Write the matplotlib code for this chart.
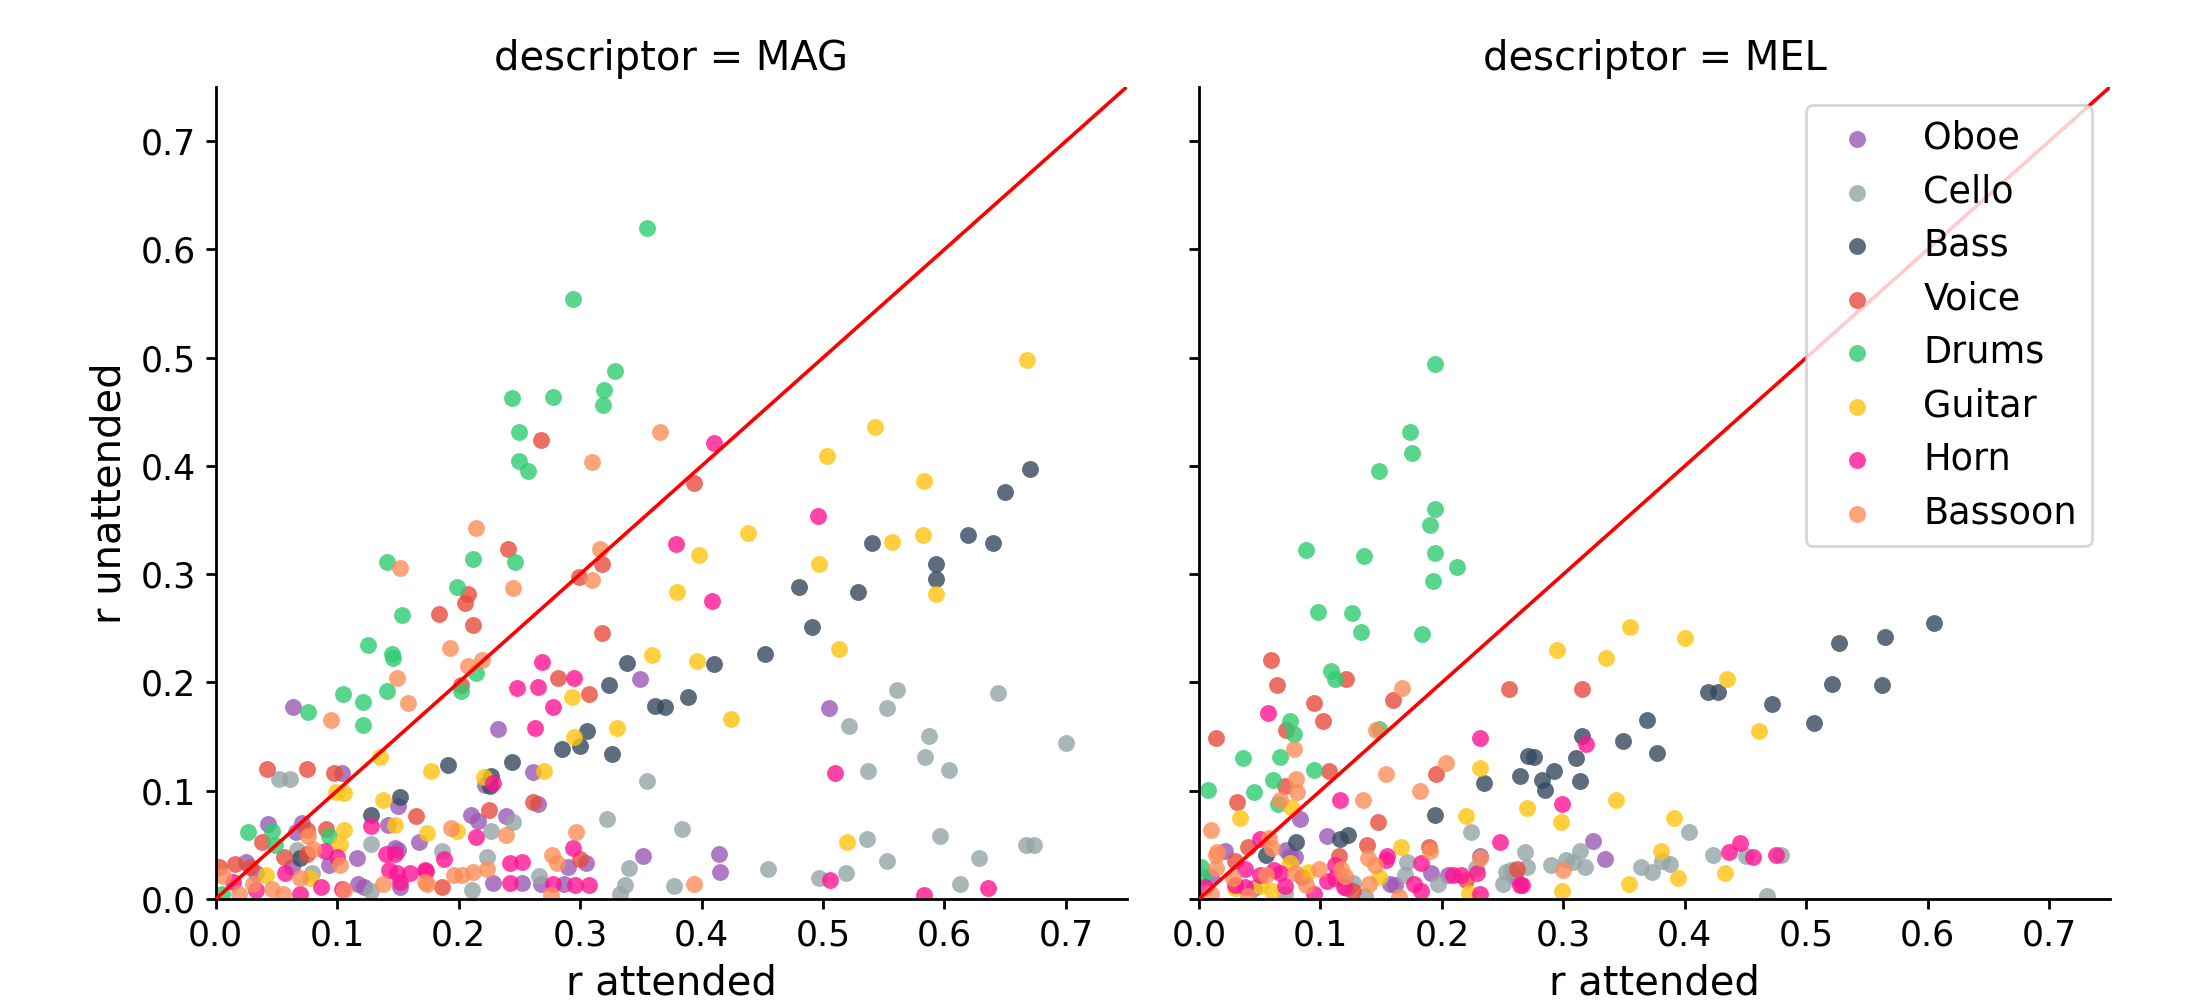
import matplotlib
matplotlib.use("Agg")
import matplotlib.pyplot as plt
import numpy as np

# ---------------- data (x = r attended, y = r unattended) ----------------
instruments = ["Oboe", "Cello", "Bass", "Voice", "Drums", "Guitar", "Horn", "Bassoon"]
colors = ["#9b59b6", "#95a5a6", "#34495e", "#e74c3c", "#2ecc71", "#ffc40f", "#ff1493", "#fc8d59"]
panels = ["MAG", "MEL"]

MAG_Oboe = [(0.064,0.177),(0.349,0.203),(0.232,0.157),(0.261,0.117),(0.222,0.105),(0.104,0.116),(0.150,0.086),
            (0.265,0.088),(0.210,0.078),(0.216,0.072),(0.239,0.077),(0.352,0.040),(0.142,0.068),(0.167,0.053),
            (0.150,0.045),(0.148,0.047),(0.252,0.015),(0.228,0.015),(0.268,0.014),(0.290,0.030),(0.305,0.033),
            (0.505,0.176),(0.414,0.042),(0.415,0.025),(0.043,0.069),(0.066,0.062),(0.071,0.070),(0.063,0.030),
            (0.025,0.034),(0.033,0.024),(0.093,0.031),(0.116,0.038),(0.117,0.014),(0.122,0.011),(0.152,0.011),
            (0.287,0.014)]
MAG_Cello = [(0.052,0.111),(0.061,0.111),(0.355,0.109),(0.384,0.065),(0.322,0.074),(0.245,0.071),(0.227,0.063),
             (0.128,0.051),(0.186,0.044),(0.223,0.039),(0.211,0.008),(0.266,0.021),(0.340,0.029),(0.337,0.013),
             (0.333,0.005),(0.377,0.012),(0.455,0.028),(0.561,0.193),(0.553,0.176),(0.521,0.160),(0.644,0.190),
             (0.587,0.151),(0.584,0.131),(0.604,0.119),(0.537,0.118),(0.700,0.144),(0.536,0.055),(0.553,0.035),
             (0.497,0.019),(0.519,0.024),(0.596,0.058),(0.628,0.038),(0.613,0.014),(0.667,0.050),(0.674,0.050),
             (0.067,0.045),(0.079,0.024),(0.128,0.007)]
MAG_Bass = [(0.670,0.397),(0.650,0.376),(0.540,0.329),(0.619,0.336),(0.640,0.329),(0.593,0.309),(0.593,0.296),
            (0.480,0.288),(0.529,0.284),(0.491,0.251),(0.410,0.217),(0.452,0.226),(0.362,0.178),(0.370,0.177),
            (0.389,0.187),(0.339,0.218),(0.324,0.198),(0.306,0.155),(0.285,0.139),(0.300,0.141),(0.326,0.134),
            (0.244,0.127),(0.191,0.124),(0.227,0.114),(0.226,0.104),(0.152,0.094),(0.128,0.078),(0.069,0.038)]
MAG_Voice = [(0.268,0.424),(0.394,0.384),(0.241,0.323),(0.208,0.282),(0.205,0.273),(0.184,0.263),(0.212,0.253),
             (0.318,0.309),(0.299,0.297),(0.318,0.246),(0.282,0.204),(0.307,0.189),(0.202,0.198),(0.042,0.120),
             (0.075,0.120),(0.097,0.116),(0.165,0.077),(0.261,0.090),(0.225,0.082),(0.300,0.037),(0.186,0.011),
             (0.038,0.053),(0.075,0.064),(0.091,0.065),(0.075,0.042),(0.056,0.039),(0.016,0.032),(0.003,0.030),
             (0.028,0.030)]
MAG_Drums = [(0.355,0.620),(0.294,0.554),(0.329,0.488),(0.320,0.470),(0.319,0.456),(0.244,0.463),(0.278,0.464),
             (0.250,0.431),(0.250,0.405),(0.257,0.395),(0.212,0.314),(0.246,0.311),(0.141,0.311),(0.199,0.288),
             (0.153,0.262),(0.125,0.235),(0.145,0.226),(0.146,0.223),(0.214,0.209),(0.202,0.192),(0.105,0.189),
             (0.121,0.182),(0.141,0.192),(0.121,0.161),(0.076,0.173),(0.027,0.062),(0.046,0.063),(0.049,0.050),
             (0.093,0.058),(0.005,0.005)]
MAG_Guitar = [(0.668,0.498),(0.543,0.436),(0.503,0.409),(0.583,0.386),(0.438,0.338),(0.398,0.318),(0.557,0.330),
              (0.582,0.336),(0.497,0.309),(0.593,0.282),(0.380,0.284),(0.513,0.231),(0.359,0.225),(0.396,0.220),
              (0.424,0.166),(0.293,0.187),(0.330,0.158),(0.295,0.150),(0.177,0.118),(0.270,0.118),(0.221,0.113),
              (0.135,0.131),(0.099,0.099),(0.106,0.098),(0.138,0.091),(0.199,0.063),(0.148,0.068),(0.174,0.061),
              (0.520,0.053),(0.102,0.051),(0.106,0.064),(0.041,0.022),(0.078,0.019)]
MAG_Horn = [(0.410,0.421),(0.496,0.354),(0.379,0.328),(0.409,0.275),(0.269,0.219),(0.248,0.195),(0.265,0.196),
            (0.295,0.204),(0.278,0.177),(0.263,0.158),(0.228,0.107),(0.510,0.116),(0.214,0.057),(0.294,0.047),
            (0.128,0.067),(0.140,0.042),(0.188,0.037),(0.173,0.026),(0.160,0.024),(0.242,0.033),(0.252,0.034),
            (0.242,0.015),(0.278,0.014),(0.296,0.013),(0.307,0.013),(0.506,0.018),(0.583,0.004),(0.636,0.010),
            (0.148,0.042),(0.143,0.027),(0.149,0.024),(0.172,0.027),(0.152,0.016),(0.057,0.024),(0.014,0.016),
            (0.033,0.008),(0.087,0.011),(0.069,0.005),(0.104,0.009),(0.100,0.039),(0.090,0.044)]
MAG_Bassoon = [(0.310,0.404),(0.366,0.431),(0.214,0.343),(0.152,0.306),(0.245,0.287),(0.316,0.323),(0.310,0.295),
               (0.193,0.232),(0.149,0.204),(0.208,0.215),(0.219,0.221),(0.158,0.181),(0.095,0.165),(0.239,0.059),
               (0.194,0.066),(0.297,0.062),(0.223,0.028),(0.212,0.025),(0.196,0.022),(0.203,0.022),(0.174,0.014),
               (0.277,0.041),(0.281,0.033),(0.276,0.004),(0.394,0.014),(0.138,0.014),(0.172,0.016),(0.076,0.058),
               (0.006,0.021),(0.031,0.014),(0.046,0.009),(0.069,0.019),(0.055,0.005),(0.019,0.005),(0.106,0.008),
               (0.102,0.031),(0.080,0.046)]

MEL_Oboe = [(0.083,0.074),(0.105,0.058),(0.021,0.044),(0.072,0.045),(0.075,0.040),(0.324,0.054),(0.231,0.040),
            (0.079,0.039),(0.122,0.010),(0.157,0.014),(0.161,0.013),(0.191,0.024),(0.205,0.022),(0.334,0.037),
            (0.010,0.020),(0.045,0.010),(0.260,0.020)]
MEL_Cello = [(0.224,0.062),(0.403,0.062),(0.268,0.043),(0.270,0.030),(0.257,0.027),(0.250,0.014),(0.253,0.025),
             (0.290,0.031),(0.302,0.036),(0.308,0.034),(0.314,0.044),(0.318,0.030),(0.364,0.030),(0.373,0.025),
             (0.381,0.035),(0.388,0.032),(0.423,0.041),(0.450,0.040),(0.479,0.041),(0.468,0.003),(0.171,0.034),
             (0.170,0.022),(0.197,0.014),(0.228,0.029),(0.127,0.015),(0.071,0.005),(0.120,0.015),(0.137,0.003)]
MEL_Bass = [(0.605,0.255),(0.565,0.242),(0.527,0.236),(0.521,0.199),(0.562,0.198),(0.419,0.191),(0.427,0.191),
            (0.472,0.180),(0.506,0.163),(0.369,0.165),(0.315,0.151),(0.349,0.146),(0.377,0.135),(0.271,0.132),
            (0.276,0.131),(0.310,0.130),(0.292,0.118),(0.264,0.114),(0.282,0.110),(0.285,0.101),(0.314,0.109),
            (0.235,0.107),(0.194,0.078),(0.116,0.055),(0.123,0.059),(0.080,0.053),(0.055,0.041)]
MEL_Voice = [(0.059,0.221),(0.064,0.198),(0.121,0.203),(0.095,0.181),(0.102,0.164),(0.014,0.149),(0.072,0.156),
             (0.107,0.118),(0.071,0.104),(0.031,0.090),(0.160,0.184),(0.195,0.115),(0.147,0.071),(0.255,0.194),
             (0.315,0.194),(0.040,0.048),(0.138,0.050),(0.189,0.048),(0.127,0.007),(0.220,0.018),(0.262,0.028),
             (0.030,0.035),(0.085,0.020),(0.115,0.040)]
MEL_Drums = [(0.194,0.494),(0.174,0.431),(0.175,0.412),(0.148,0.395),(0.194,0.360),(0.190,0.345),(0.088,0.322),
             (0.136,0.317),(0.194,0.320),(0.212,0.307),(0.193,0.294),(0.098,0.265),(0.126,0.264),(0.133,0.247),
             (0.184,0.245),(0.109,0.211),(0.112,0.203),(0.075,0.164),(0.078,0.152),(0.036,0.130),(0.067,0.131),
             (0.095,0.119),(0.061,0.110),(0.007,0.101),(0.045,0.099),(0.065,0.088),(0.148,0.157),(0.002,0.030),
             (0.003,0.020)]
MEL_Guitar = [(0.355,0.251),(0.400,0.241),(0.295,0.230),(0.335,0.223),(0.435,0.203),(0.461,0.155),(0.231,0.121),
              (0.220,0.077),(0.270,0.084),(0.298,0.071),(0.343,0.091),(0.391,0.075),(0.076,0.085),(0.034,0.075),
              (0.166,0.048),(0.380,0.044),(0.394,0.019),(0.433,0.024),(0.354,0.014),(0.299,0.007),(0.222,0.006),
              (0.148,0.020),(0.075,0.033),(0.090,0.025),(0.050,0.012),(0.060,0.007),(0.030,0.010)]
MEL_Horn = [(0.057,0.172),(0.231,0.149),(0.319,0.143),(0.299,0.088),(0.116,0.091),(0.248,0.053),(0.050,0.055),
            (0.436,0.043),(0.445,0.052),(0.456,0.039),(0.475,0.041),(0.266,0.013),(0.038,0.028),(0.050,0.022),
            (0.062,0.027),(0.067,0.024),(0.112,0.031),(0.112,0.019),(0.119,0.011),(0.154,0.036),(0.155,0.040),
            (0.183,0.033),(0.177,0.014),(0.183,0.007),(0.209,0.022),(0.216,0.022),(0.229,0.024),(0.231,0.005),
            (0.264,0.013),(0.005,0.011),(0.030,0.013),(0.038,0.011),(0.071,0.012),(0.095,0.005),(0.105,0.017)]
MEL_Bassoon = [(0.078,0.139),(0.080,0.111),(0.081,0.099),(0.010,0.064),(0.146,0.156),(0.167,0.195),(0.154,0.115),
               (0.203,0.126),(0.182,0.100),(0.135,0.091),(0.067,0.091),(0.015,0.043),(0.058,0.056),(0.060,0.047),
               (0.190,0.044),(0.231,0.038),(0.014,0.041),(0.014,0.029),(0.079,0.024),(0.099,0.028),(0.117,0.028),
               (0.120,0.021),(0.139,0.038),(0.145,0.031),(0.140,0.014),(0.028,0.019),(0.055,0.022),(0.088,0.013),
               (0.300,0.027),(0.010,0.005),(0.040,0.003),(0.165,0.002)]

data = {
    "MAG": [MAG_Oboe, MAG_Cello, MAG_Bass, MAG_Voice, MAG_Drums, MAG_Guitar, MAG_Horn, MAG_Bassoon],
    "MEL": [MEL_Oboe, MEL_Cello, MEL_Bass, MEL_Voice, MEL_Drums, MEL_Guitar, MEL_Horn, MEL_Bassoon],
}
ticks = [0.0, 0.1, 0.2, 0.3, 0.4, 0.5, 0.6, 0.7]

# ---------------- figure ----------------
plt.rcParams['font.family'] = ['DejaVu Sans']
W, H, DPI = 2193, 1005, 200
fig = plt.figure(figsize=(W / DPI, H / DPI), dpi=DPI)

axw, axh = 911 / W, 812 / H
bottom = (H - 899) / H
ax1 = fig.add_axes([215.7 / W, bottom, axw, axh])
ax2 = fig.add_axes([1199 / W, bottom, axw, axh], sharey=ax1)

for ax, name in zip([ax1, ax2], panels):
    for inst, col, pts in zip(instruments, colors, data[name]):
        arr = np.array(pts)
        ax.scatter(arr[:, 0], arr[:, 1], s=37, color=col, alpha=0.8, linewidths=0, label=inst, zorder=2)
    ax.plot([0, 1], [0, 1], color="red", lw=1.3, zorder=3)
    ax.set_xlim(0, 0.75)
    ax.set_ylim(0, 0.75)
    ax.set_xticks(ticks)
    ax.set_yticks(ticks)
    ax.xaxis.set_major_formatter(matplotlib.ticker.FormatStrFormatter('%.1f'))
    ax.yaxis.set_major_formatter(matplotlib.ticker.FormatStrFormatter('%.1f'))
    for sp in ["top", "right"]:
        ax.spines[sp].set_visible(False)
    for sp in ["left", "bottom"]:
        ax.spines[sp].set_linewidth(1.0)
    ax.tick_params(labelsize=12.5, width=1.0, length=3.5)
    ax.set_title(f"descriptor = {name}", fontsize=14.4)
    ax.set_xlabel("r attended", fontsize=14.4)

ax1.set_ylabel("r unattended", fontsize=14.4)
ax2.tick_params(labelleft=False)

ax2.legend(loc="upper right", fontsize=13.2, labelspacing=0.45, scatterpoints=1, frameon=True)

fig.savefig("out.png", dpi=DPI)
